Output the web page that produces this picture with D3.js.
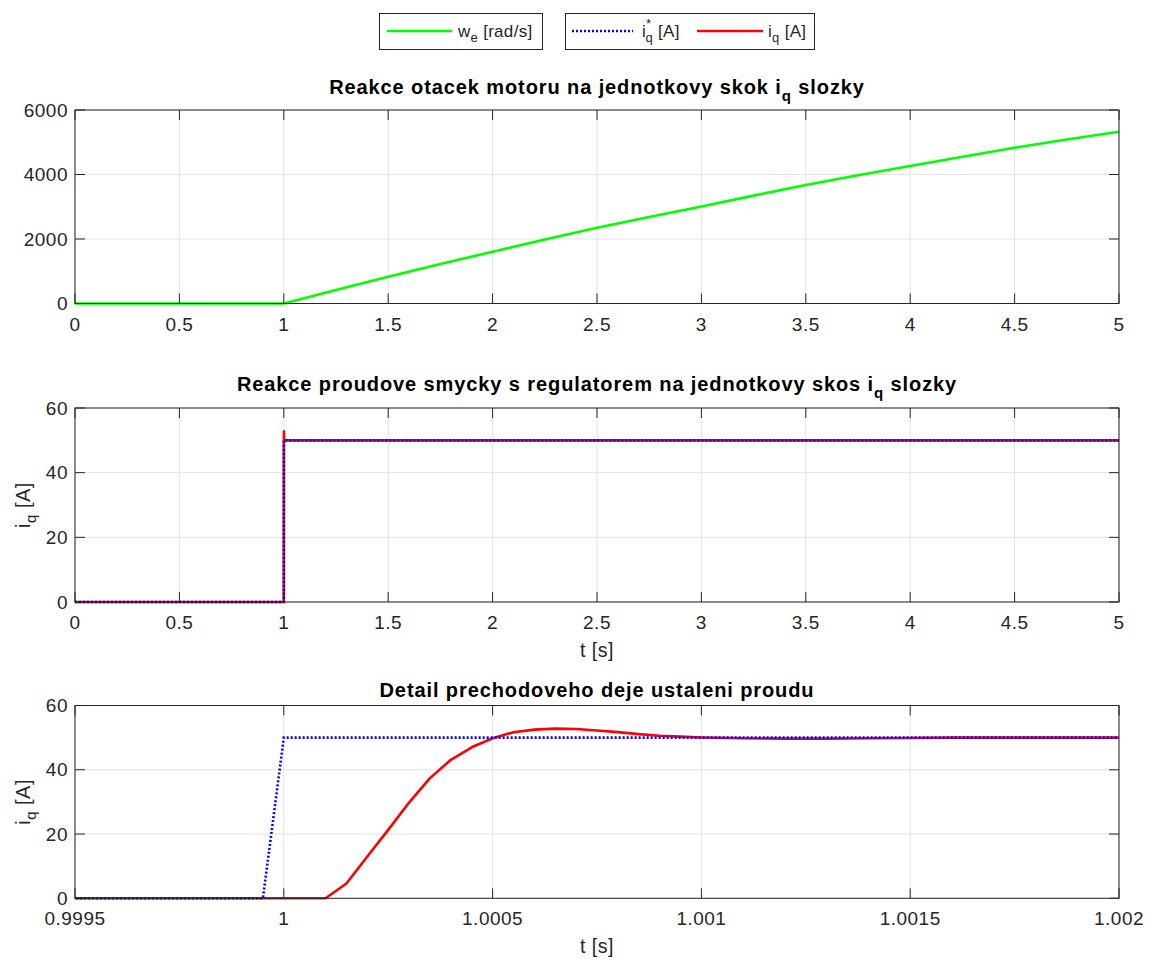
<!DOCTYPE html>
<html>
<head>
<meta charset="utf-8">
<script src="https://cdn.jsdelivr.net/npm/d3@7"></script>
<style>
html,body{margin:0;padding:0;background:#fff;}
svg text{font-family:"Liberation Sans",Arial,Helvetica,sans-serif;fill:#262626;}
</style>
</head>
<body>
<svg id="chart" width="1154" height="960"></svg>
<script>
// ---------- data ----------
const timeW  = [0, 1, 1.25, 1.5, 1.75, 2, 2.25, 2.5, 2.75, 3, 3.25, 3.5, 3.75, 4, 4.25, 4.5, 4.75, 5];
const omegaE = [0, 0, 420, 831, 1225, 1606, 1985, 2350, 2685, 3010, 3345, 3674, 3975, 4264, 4550, 4831, 5085, 5327];

const timeRef = [0, 0.99995, 1.0, 5];
const iqRef   = [0, 0, 50, 50];

const timeIq = [0, 1.0001, 1.00015, 1.0002, 1.00025, 1.0003, 1.00035, 1.0004, 1.00045, 1.0005,
                1.00055, 1.0006, 1.00065, 1.0007, 1.00075, 1.0008, 1.00085, 1.0009, 1.00095, 1.001,
                1.0011, 1.0012, 1.0013, 1.0014, 1.0015, 1.0016, 1.002, 5];
const iqVal  = [0, 0, 4.6, 13.0, 21.3, 29.8, 37.4, 43.1, 47.0, 49.8,
                51.7, 52.5, 52.8, 52.7, 52.2, 51.7, 51.1, 50.6, 50.3, 50.05,
                49.8, 49.7, 49.7, 49.8, 49.9, 50.0, 50.0, 50.0];

const ticks1X = [0, 0.5, 1, 1.5, 2, 2.5, 3, 3.5, 4, 4.5, 5];
const ticks1Y = [0, 2000, 4000, 6000];
const ticks2Y = [0, 20, 40, 60];
const ticks3X = [0.9995, 1, 1.0005, 1.001, 1.0015, 1.002];
const ticks3Labels = ["0.9995", "1", "1.0005", "1.001", "1.0015", "1.002"];

// ---------- layout ----------
const svg = d3.select("#chart");
const L = 75, R = 1119;
const panels = [
  {top:110, bottom:303.5, xd:[0,5], yd:[0,6000], xt:ticks1X, yt:ticks1Y, xl:null, yl:false,
   title:["Reakce otacek motoru na jednotkovy skok i","q"," slozky"], ty:94},
  {top:408, bottom:602, xd:[0,5], yd:[0,60], xt:ticks1X, yt:ticks2Y, xl:"t [s]", yl:true,
   title:["Reakce proudove smycky s regulatorem na jednotkovy skos i","q"," slozky"], ty:391},
  {top:705.5, bottom:898.3, xd:[0.9995,1.002], yd:[0,60], xt:ticks3X, yt:ticks2Y, xl:"t [s]", yl:true,
   title:["Detail prechodoveho deje ustaleni proudu"], ty:697, xlabels:ticks3Labels}
];

const axisCol = "#262626";
const gridCol = "#e3e3e3";
const tickFont = 19, tickLS = 0.5;

panels.forEach((p, pi) => {
  const x = d3.scaleLinear().domain(p.xd).range([L, R]);
  const y = d3.scaleLinear().domain(p.yd).range([p.bottom, p.top]);
  const g = svg.append("g");

  g.append("rect").attr("x", L).attr("y", p.top).attr("width", R-L).attr("height", p.bottom-p.top).attr("fill", "#fff");

  // grid
  g.append("g").selectAll("line").data(p.xt).join("line")
    .attr("x1", d=>x(d)).attr("x2", d=>x(d)).attr("y1", p.top).attr("y2", p.bottom)
    .attr("stroke", gridCol).attr("stroke-width", 1);
  g.append("g").selectAll("line").data(p.yt).join("line")
    .attr("x1", L).attr("x2", R).attr("y1", d=>y(d)).attr("y2", d=>y(d))
    .attr("stroke", gridCol).attr("stroke-width", 1);

  // clip
  const cid = "clip"+pi;
  svg.append("clipPath").attr("id", cid).append("rect")
    .attr("x", L).attr("y", p.top-4).attr("width", R-L).attr("height", p.bottom-p.top+8);
  const plot = g.append("g").attr("clip-path", `url(#${cid})`);
  const line = d3.line().x(d=>x(d[0])).y(d=>y(d[1]));

  if (pi === 0) {
    plot.append("path").datum(d3.zip(timeW, omegaE)).attr("d", line)
      .attr("fill","none").attr("stroke","#00ff00").attr("stroke-width",2.6).attr("stroke-linejoin","round");
  } else {
    plot.append("path").datum(d3.zip(timeIq, iqVal)).attr("d", line)
      .attr("fill","none").attr("stroke","#ff0000").attr("stroke-width",2.6).attr("stroke-linejoin","round");
    plot.append("path").datum(d3.zip(timeRef, iqRef)).attr("d", line)
      .attr("fill","none").attr("stroke","#0000ff").attr("stroke-width",2.6).attr("stroke-dasharray","2,2");
  }

  // axes box
  g.append("rect").attr("x", L).attr("y", p.top).attr("width", R-L).attr("height", p.bottom-p.top)
    .attr("fill","none").attr("stroke", axisCol).attr("stroke-width", 1);

  // ticks (inward)
  const tl = 10;
  const tg = g.append("g").attr("stroke", axisCol).attr("stroke-width", 1);
  p.xt.forEach(d => {
    tg.append("line").attr("x1", x(d)).attr("x2", x(d)).attr("y1", p.bottom).attr("y2", p.bottom-tl);
    tg.append("line").attr("x1", x(d)).attr("x2", x(d)).attr("y1", p.top).attr("y2", p.top+tl);
  });
  p.yt.forEach(d => {
    tg.append("line").attr("x1", L).attr("x2", L+tl).attr("y1", y(d)).attr("y2", y(d));
    tg.append("line").attr("x1", R).attr("x2", R-tl).attr("y1", y(d)).attr("y2", y(d));
  });

  // tick labels
  g.append("g").selectAll("text").data(p.xt).join("text")
    .attr("x", d=>x(d)).attr("y", p.bottom+27).attr("text-anchor","middle")
    .attr("font-size", tickFont).attr("letter-spacing", tickLS)
    .text((d,i)=> p.xlabels ? p.xlabels[i] : d3.format("")(d));
  g.append("g").selectAll("text").data(p.yt).join("text")
    .attr("x", L-7).attr("y", d=>y(d)+6.5).attr("text-anchor","end")
    .attr("font-size", tickFont).attr("letter-spacing", tickLS).text(d=>d);

  if (p.xl) {
    g.append("text").attr("x", (L+R)/2).attr("y", p.bottom+55).attr("text-anchor","middle")
      .attr("font-size", 19.5).attr("letter-spacing", 0.5).text(p.xl);
  }
  if (p.yl) {
    const t = g.append("text").attr("transform", `translate(30,${(p.top+p.bottom)/2}) rotate(-90)`)
      .attr("text-anchor","middle").attr("font-size", 20).attr("letter-spacing", 0.5);
    t.append("tspan").text("i");
    t.append("tspan").attr("font-size", 15).attr("dy", 6).text("q");
    t.append("tspan").attr("dy", -6).text(" [A]");
  }
  // title
  const tt = g.append("text").attr("x", (L+R)/2).attr("y", p.ty).attr("text-anchor","middle")
    .attr("font-size", 20).attr("letter-spacing", 0.9).attr("font-weight","bold").style("fill","#000");
  if (p.title.length === 1) {
    tt.text(p.title[0]);
  } else {
    tt.append("tspan").text(p.title[0]);
    tt.append("tspan").attr("font-size", 15).attr("dy", 7).text(p.title[1]);
    tt.append("tspan").attr("dy", -7).text(p.title[2]);
  }
});

// ---------- legends ----------
const lg = svg.append("g");
lg.append("rect").attr("x", 379.5).attr("y", 13.5).attr("width", 163).attr("height", 36)
  .attr("fill","#fff").attr("stroke", axisCol).attr("stroke-width",1);
lg.append("line").attr("x1",387).attr("x2",452).attr("y1",31).attr("y2",31)
  .attr("stroke","#00ff00").attr("stroke-width",2.6);
const t1 = lg.append("text").attr("x",458).attr("y",37).attr("font-size",17).attr("letter-spacing",0.3);
t1.append("tspan").text("w");
t1.append("tspan").attr("font-size",13).attr("dy",5).text("e");
t1.append("tspan").attr("dy",-5).text(" [rad/s]");

lg.append("rect").attr("x", 565.5).attr("y", 13.5).attr("width", 249).attr("height", 36)
  .attr("fill","#fff").attr("stroke", axisCol).attr("stroke-width",1);
lg.append("line").attr("x1",572).attr("x2",633).attr("y1",31).attr("y2",31)
  .attr("stroke","#0000ff").attr("stroke-width",2.6).attr("stroke-dasharray","2,2");
const t2 = lg.append("text").attr("x",642).attr("y",37).attr("font-size",17).attr("letter-spacing",0.3);
t2.append("tspan").text("i");
t2.append("tspan").attr("font-size",13).attr("dy",-9).text("*");
t2.append("tspan").attr("font-size",13).attr("dx",-6).attr("dy",14).text("q");
t2.append("tspan").attr("dy",-5).text(" [A]");
lg.append("line").attr("x1",697).attr("x2",763).attr("y1",31).attr("y2",31)
  .attr("stroke","#ff0000").attr("stroke-width",2.6);
const t3 = lg.append("text").attr("x",768).attr("y",37).attr("font-size",17).attr("letter-spacing",0.3);
t3.append("tspan").text("i");
t3.append("tspan").attr("font-size",13).attr("dy",5).text("q");
t3.append("tspan").attr("dy",-5).text(" [A]");
</script>
</body>
</html>
